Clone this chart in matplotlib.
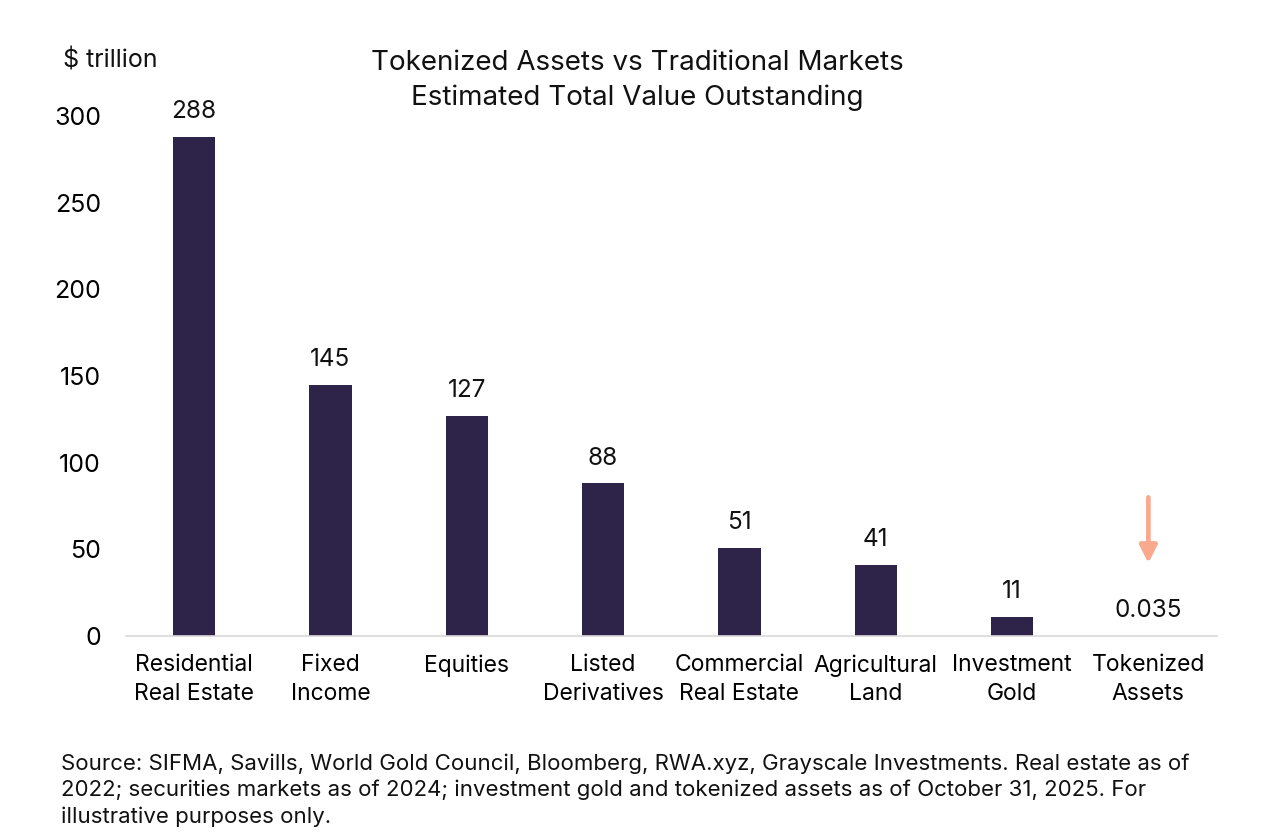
import matplotlib.pyplot as plt

plt.rcParams['font.family'] = ['Inter', 'DejaVu Sans']

categories = ['Residential\nReal Estate', 'Fixed\nIncome', 'Equities', 'Listed\nDerivatives',
              'Commercial\nReal Estate', 'Agricultural\nLand', 'Investment\nGold', 'Tokenized\nAssets']
values = [288, 145, 127, 88, 51, 41, 11, 0.035]
value_labels = ['288', '145', '127', '88', '51', '41', '11', '0.035']
yticks = [0, 50, 100, 150, 200, 250, 300]

bar_color = '#2e2449'
arrow_color = '#f9a98e'

fig = plt.figure(figsize=(12.8, 8.36), dpi=100)
ax = fig.add_axes([0.0984, 0.2392, 0.852, 0.622])

x = list(range(len(categories)))
ax.bar(x, values, width=0.31, color=bar_color, zorder=2)

for i, v in enumerate(values):
    ax.text(i, v + 8, value_labels[i], ha='center', va='bottom', fontsize=17.5, color='#111111')

# arrow pointing at the tiny tokenized bar
ax.annotate('', xy=(7, 42), xytext=(7, 80),
            arrowprops=dict(arrowstyle='-|>', color=arrow_color, lw=3.4, mutation_scale=26,
                            shrinkA=0, shrinkB=0))

ax.set_xlim(-0.5, 7.5)
ax.set_ylim(0, 300)
ax.set_yticks(yticks)
ax.set_xticks(x)
ax.set_xticklabels(categories, fontsize=16.5, linespacing=1.38)
ax.tick_params(axis='y', length=0, labelsize=18, pad=18)
ax.tick_params(axis='x', length=0, pad=13)

for s in ['top', 'right', 'left']:
    ax.spines[s].set_visible(False)
ax.spines['bottom'].set_color('#d9d9d9')
ax.spines['bottom'].set_linewidth(1.2)

fig.text(0.049, 0.928, '$ trillion', fontsize=18, ha='left', va='center', color='#111111')
fig.text(0.498, 0.904, 'Tokenized Assets vs Traditional Markets\nEstimated Total Value Outstanding',
         ha='center', va='center', fontsize=20, linespacing=1.42, color='#111111')

fig.text(0.048, 0.055, 'Source: SIFMA, Savills, World Gold Council, Bloomberg, RWA.xyz, Grayscale Investments. Real estate as of\n'
         '2022; securities markets as of 2024; investment gold and tokenized assets as of October 31, 2025. For\n'
         'illustrative purposes only.', ha='left', va='center', fontsize=16, linespacing=1.38, color='#111111')

fig.savefig('out.png', dpi=100, facecolor='white')
